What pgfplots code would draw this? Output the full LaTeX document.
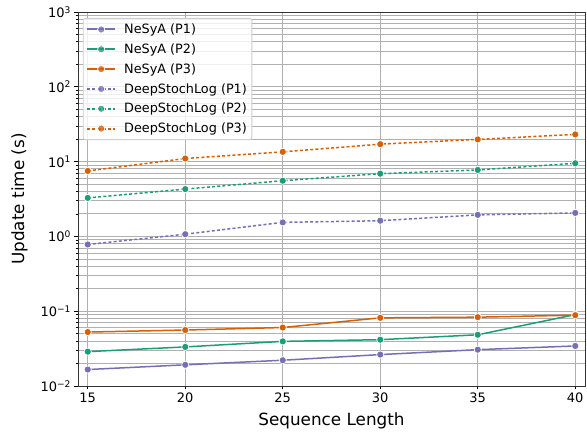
\documentclass[border=0pt]{standalone}
\usepackage{pgfplots}
\pgfplotsset{compat=1.18}
\usepackage{fontspec}
\setmainfont{DejaVu Sans}
\definecolor{cP1}{HTML}{7570B3}
\definecolor{cP2}{HTML}{1B9E77}
\definecolor{cP3}{HTML}{D95F02}
\definecolor{gridc}{HTML}{B0B0B0}

\pgfplotsset{
  nesya/.style={color=#1, line width=1.5pt, solid, mark=*, mark size=3.6pt,
    mark options={solid, fill=#1, draw=white, line width=0.7pt}},
  dsl/.style={color=#1, line width=1.5pt, dash pattern=on 3pt off 2.2pt, mark=*, mark size=3.6pt,
    mark options={solid, fill=#1, draw=white, line width=0.7pt}},
}

\begin{document}
\begin{tikzpicture}
\begin{axis}[
  name=ax,
  scale only axis,
  width=507pt, height=374pt,
  ymode=log,
  xmin=14.5, xmax=40.5,
  ymin=0.01, ymax=1000,
  xtick={15,20,25,30,35,40},
  ytick={0.01,0.1,1,10,100,1000},
  yticklabels={10\textsuperscript{−2},10\textsuperscript{−1},10\textsuperscript{0},10\textsuperscript{1},10\textsuperscript{2},10\textsuperscript{3}},
  minor ytick={0.02,0.03,0.04,0.05,0.06,0.07,0.08,0.09,
    0.2,0.3,0.4,0.5,0.6,0.7,0.8,0.9,
    2,3,4,5,6,7,8,9,
    20,30,40,50,60,70,80,90,
    200,300,400,500,600,700,800,900},
  /pgf/number format/assume math mode=true,
  tick align=outside,
  major tick length=3.5pt,
  minor tick length=2pt,
  tick style={black, line width=0.8pt},
  minor tick style={black, line width=0.6pt},
  xtick pos=bottom, ytick pos=left,
  grid=both,
  major grid style={gridc, line width=0.8pt},
  minor grid style={gridc, line width=0.8pt},
  axis line style={black!80, line width=0.8pt},
  ticklabel style={font=\fontsize{13}{15}\selectfont},
  xlabel={Sequence Length},
  ylabel={Update time (s)},
  label style={font=\fontsize{16.8}{19}\selectfont},
  xlabel style={yshift=-3pt},
  ylabel style={yshift=6pt},
  legend cell align=left,
  legend style={at={(0.0095,0.984)}, anchor=north west,
    font=\fontsize{12.8}{15}\selectfont,
    draw=black!20, line width=0.8pt, rounded corners=2pt,
    fill=white, fill opacity=0.8, text opacity=1,
    row sep=4.6pt, inner xsep=3pt, inner ysep=3.5pt},
  legend image code/.code={
    \draw[line width=2pt, mark repeat=2, mark phase=2] plot coordinates {(0pt,0pt) (14pt,0pt) (28pt,0pt)};
  },
]
\addplot[nesya=cP1] coordinates {(15,0.0166) (20,0.0192) (25,0.0221) (30,0.0263) (35,0.0306) (40,0.0343)};
\addplot[nesya=cP2] coordinates {(15,0.0288) (20,0.0333) (25,0.0395) (30,0.0416) (35,0.0484) (40,0.0900)};
\addplot[nesya=cP3] coordinates {(15,0.0526) (20,0.0560) (25,0.0605) (30,0.0815) (35,0.0832) (40,0.0885)};
\addplot[dsl=cP1] coordinates {(15,0.78) (20,1.07) (25,1.54) (30,1.62) (35,1.94) (40,2.06)};
\addplot[dsl=cP2] coordinates {(15,3.27) (20,4.29) (25,5.55) (30,6.90) (35,7.73) (40,9.50)};
\addplot[dsl=cP3] coordinates {(15,7.5) (20,11.0) (25,13.5) (30,17.1) (35,19.8) (40,23.1)};
\legend{\hspace{6pt}NeSyA (P1),\hspace{6pt}NeSyA (P2),\hspace{6pt}NeSyA (P3),\hspace{6pt}DeepStochLog (P1),\hspace{6pt}DeepStochLog (P2),\hspace{6pt}DeepStochLog (P3)}
\end{axis}
\pgfresetboundingbox
\path ([xshift=-78pt,yshift=-47pt]ax.south west) rectangle ([xshift=2pt,yshift=12pt]ax.north east);
\end{tikzpicture}
\end{document}
